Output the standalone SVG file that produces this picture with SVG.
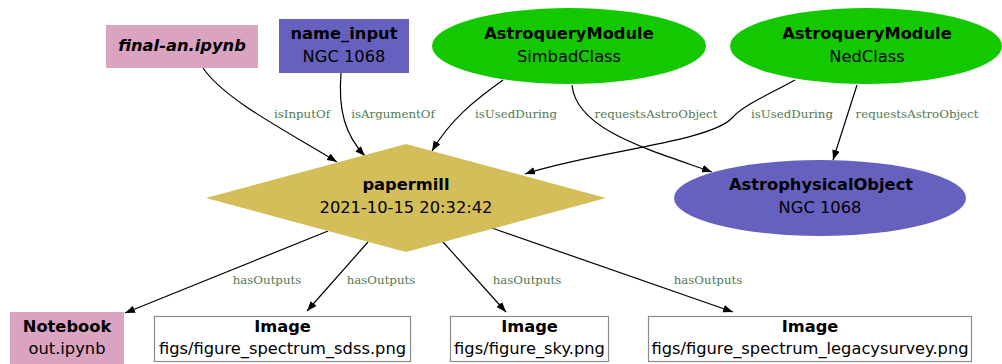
<svg xmlns="http://www.w3.org/2000/svg" width="1002" height="364" viewBox="0 0 1002 364">
<style>
.t{font-family:"DejaVu Sans",sans-serif;font-size:16.3px;fill:#000;text-anchor:middle}
.b{font-weight:bold}
.lbl{font-family:"DejaVu Serif",serif;font-size:11.8px;fill:#4f7a4f;text-anchor:middle}
.e{fill:none;stroke:#000;stroke-width:1.2;marker-end:url(#arr)}
</style>
<defs>
<marker id="arr" markerUnits="userSpaceOnUse" markerWidth="11" markerHeight="8" refX="10" refY="3.8" orient="auto">
<path d="M0,0 L10,3.8 L0,7.6 z" fill="#000"/>
</marker>
</defs>
<rect width="1002" height="364" fill="#fff"/>
<g id="connectors">
<path class="e" d="M203,68 C225,100 285,130 337,162"/>
<path class="e" d="M341,73 C338,110 345,135 365,156"/>
<path class="e" d="M503,80 C475,100 450,120 432,151"/>
<path class="e" d="M572,85 C576,130 650,150 712,172"/>
<path class="e" d="M795,80 C770,94 745,104 732,118 C710,142 590,152 525,174"/>
<path class="e" d="M857,85 L833,160"/>
<path class="e" d="M328,231 L125,313"/>
<path class="e" d="M368,242 L307,311"/>
<path class="e" d="M443,242 L506,312"/>
<path class="e" d="M492,228 L733,312"/>
<text class="lbl" x="302" y="118">isInputOf</text>
<text class="lbl" x="393" y="118">isArgumentOf</text>
<text class="lbl" x="516" y="118">isUsedDuring</text>
<text class="lbl" x="656" y="118">requestsAstroObject</text>
<text class="lbl" x="792" y="118">isUsedDuring</text>
<text class="lbl" x="917" y="118">requestsAstroObject</text>
<text class="lbl" x="267" y="284">hasOutputs</text>
<text class="lbl" x="381" y="284">hasOutputs</text>
<text class="lbl" x="527" y="284">hasOutputs</text>
<text class="lbl" x="708" y="284">hasOutputs</text>
</g>
<g id="final-an">
<rect x="106" y="25" width="152" height="43" fill="#daa4c0"/>
<text class="t b" x="182" y="51" font-style="italic">final-an.ipynb</text>
</g>
<g id="name_input">
<rect x="279" y="19" width="130" height="54" fill="#6661bf"/>
<text class="t b" x="344" y="39">name_input</text>
<text class="t" x="344" y="62">NGC 1068</text>
</g>
<g id="simbad">
<ellipse cx="569" cy="46" rx="137" ry="38" fill="#14c800"/>
<text class="t b" x="569" y="39">AstroqueryModule</text>
<text class="t" x="569" y="62">SimbadClass</text>
</g>
<g id="ned">
<ellipse cx="866" cy="46" rx="136" ry="38" fill="#14c800"/>
<text class="t b" x="867" y="39">AstroqueryModule</text>
<text class="t" x="867" y="62">NedClass</text>
</g>
<g id="papermill">
<polygon points="406,144 606,198 406,252 206,198" fill="#d4be5a"/>
<text class="t b" x="406" y="190">papermill</text>
<text class="t" x="406" y="213">2021-10-15 20:32:42</text>
</g>
<g id="astroobject">
<ellipse cx="820" cy="198" rx="146" ry="38" fill="#6661bf"/>
<text class="t b" x="821" y="190">AstrophysicalObject</text>
<text class="t" x="820" y="213">NGC 1068</text>
</g>
<g id="notebook">
<rect x="10" y="312" width="114" height="54" fill="#daa4c0"/>
<text class="t b" x="67" y="332">Notebook</text>
<text class="t" x="67" y="354">out.ipynb</text>
</g>
<g id="img-sdss">
<rect x="154.5" y="316.5" width="256" height="45" fill="#fff" stroke="#8a8a8a" stroke-width="1.2"/>
<text class="t b" x="282.5" y="332">Image</text>
<text class="t" x="282.5" y="354">figs/figure_spectrum_sdss.png</text>
</g>
<g id="img-sky">
<rect x="450.5" y="316.5" width="158" height="45" fill="#fff" stroke="#8a8a8a" stroke-width="1.2"/>
<text class="t b" x="529.5" y="332">Image</text>
<text class="t" x="529.5" y="354">figs/figure_sky.png</text>
</g>
<g id="img-legacy">
<rect x="648.5" y="316.5" width="323" height="45" fill="#fff" stroke="#8a8a8a" stroke-width="1.2"/>
<text class="t b" x="810" y="332">Image</text>
<text class="t" x="810" y="354">figs/figure_spectrum_legacysurvey.png</text>
</g>
</svg>
